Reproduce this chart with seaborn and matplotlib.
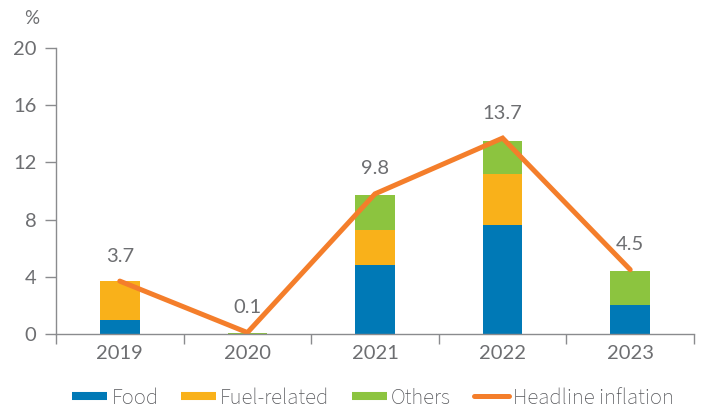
import numpy as np
import pandas as pd
import matplotlib
matplotlib.use("Agg")
import matplotlib.pyplot as plt
from matplotlib.lines import Line2D
import seaborn as sns

# Contributions to headline inflation (percentage points)
years = ["2019", "2020", "2021", "2022", "2023"]
food = [1.0, 0.0, 4.8, 7.6, 2.0]
fuel = [2.7, 0.0, 2.5, 3.6, 0.0]
others = [0.0, 0.1, 2.4, 2.3, 2.4]
headline = [3.7, 0.1, 9.8, 13.7, 4.5]
headline_labels = ["3.7", "0.1", "9.8", "13.7", "4.5"]
y_ticks = [0, 4, 8, 12, 16, 20]

C_FOOD = "#0079B6"
C_FUEL = "#F9B11A"
C_OTHERS = "#8CC43F"
C_LINE = "#F47E2B"
C_TEXT = "#6D6E71"
C_LEGEND_TEXT = "#55565A"
C_AXIS = "#8A8B8E"
FS = 14.5

sns.set_style("white")
plt.rcParams["font.family"] = ["Lato", "DejaVu Sans"]

df = pd.DataFrame({"year": years, "food": food, "fuel": fuel, "others": others})
df["food_fuel"] = df["food"] + df["fuel"]
df["total"] = df["food_fuel"] + df["others"]

fig = plt.figure(figsize=(7.02, 4.08), dpi=100)
ax = fig.add_axes([56 / 702, 1 - 334 / 408, 638 / 702, 286 / 408])

# Stacked bars: draw cumulative layers from the top down
bar_w = 0.31
sns.barplot(data=df, x="year", y="total", color=C_OTHERS, width=bar_w,
            saturation=1, ax=ax, linewidth=0)
sns.barplot(data=df, x="year", y="food_fuel", color=C_FUEL, width=bar_w,
            saturation=1, ax=ax, linewidth=0)
sns.barplot(data=df, x="year", y="food", color=C_FOOD, width=bar_w,
            saturation=1, ax=ax, linewidth=0)

# Headline inflation line
xpos = np.arange(len(years))
sns.lineplot(x=xpos, y=headline, color=C_LINE, linewidth=3.6, ax=ax,
             solid_capstyle="round", solid_joinstyle="miter")
for x, v, lab in zip(xpos, headline, headline_labels):
    ax.annotate(lab, (x, v), xytext=(0, 18), textcoords="offset points",
                ha="center", va="center", fontsize=FS, color=C_TEXT)

ax.set_xlim(-0.5, len(years) - 0.5)
ax.set_ylim(0, 20)
ax.set_yticks(y_ticks)
ax.set_yticklabels([str(t) for t in y_ticks])
ax.set_xticks(xpos)
ax.set_xticks(np.arange(-0.5, len(years)), minor=True)
ax.set_xlabel("")
ax.set_ylabel("")

for side in ["top", "right"]:
    ax.spines[side].set_visible(False)
for side in ["left", "bottom"]:
    ax.spines[side].set_color(C_AXIS)
    ax.spines[side].set_linewidth(1.0)

ax.tick_params(axis="y", direction="out", length=8, width=1.0, color=C_AXIS,
               labelsize=FS, labelcolor=C_TEXT, pad=6, left=True)
ax.tick_params(axis="x", which="major", length=0, labelsize=FS,
               labelcolor=C_TEXT, pad=8)
ax.tick_params(axis="x", which="minor", direction="out", length=7.2,
               width=1.0, color=C_AXIS, bottom=True)

fig.text(32 / 702, 1 - 18 / 408, "%", ha="center", va="center",
         fontsize=FS - 1, color=C_TEXT)

handles = [
    Line2D([], [], color=C_FOOD, lw=5.8, solid_capstyle="butt"),
    Line2D([], [], color=C_FUEL, lw=5.8, solid_capstyle="butt"),
    Line2D([], [], color=C_OTHERS, lw=5.8, solid_capstyle="butt"),
    Line2D([], [], color=C_LINE, lw=3.6, solid_capstyle="round"),
]
labels = ["Food", "Fuel-related", "Others", "Headline inflation"]
leg = fig.legend(handles, labels, loc="center", bbox_to_anchor=(373 / 702, 1 - 398 / 408),
                 ncol=4, frameon=False,
                 prop={"family": ["Source Sans 3", "DejaVu Sans"], "size": 16.3},
                 handlelength=1.55, handletextpad=0.18, columnspacing=1.0,
                 borderaxespad=0, borderpad=0)
for t in leg.get_texts():
    t.set_color(C_LEGEND_TEXT)

fig.savefig("out.png", dpi=100)
